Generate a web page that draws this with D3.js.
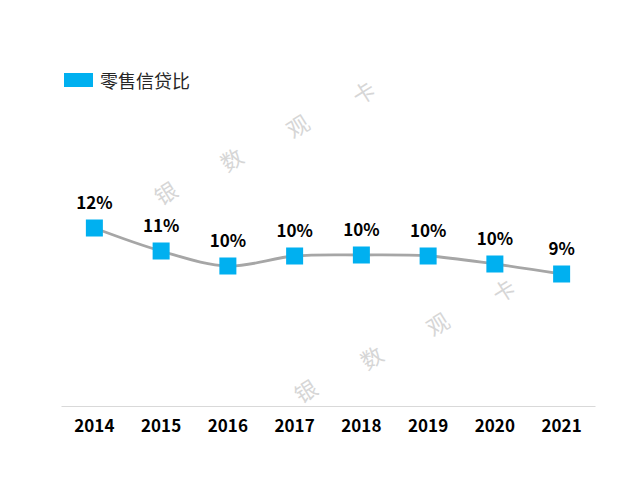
<!DOCTYPE html>
<html><head><meta charset="utf-8">
<script src="https://cdn.jsdelivr.net/npm/d3@7"></script>
<style>body{margin:0;background:#fff}svg{display:block}</style>
</head><body>
<svg id="c" width="640" height="480"></svg>
<script>
const years = ["2014","2015","2016","2017","2018","2019","2020","2021"];
const values = [11.7, 10.55, 9.8, 10.3, 10.35, 10.3, 9.9, 9.4];
const seriesName = "零售信贷比";
const watermark = ["银","数","观","卡"];

const svg = d3.select("#c");
const font = "'Noto Sans CJK SC','Noto Sans',sans-serif";
const x = d3.scaleBand().domain(years).range([61, 595]);
const y = d3.scaleLinear().domain([0, 15]).range([462, 162]);
const axisY = 406;

// watermark
const wm = [[165,192],[305,390]];
wm.forEach(([sx,sy]) => {
  watermark.forEach((ch,i) => {
    const px = sx + i*66, py = sy - i*33.5;
    svg.append("text").attr("x",px).attr("y",py)
      .attr("transform",`rotate(-32,${px},${py})`)
      .attr("text-anchor","middle").attr("dominant-baseline","central")
      .style("font-family",font).style("font-size","22px").style("fill","#d6d6d6")
      .text(ch);
  });
});

// x axis
const xAxis = d3.axisBottom(x).tickSize(0).tickPadding(14);
const gx = svg.append("g").attr("transform",`translate(0,${axisY})`).call(xAxis);
gx.select(".domain").attr("stroke","#d9d9d9").attr("stroke-width",1.2);
gx.selectAll("text").style("font-family",font).style("font-size","17px")
  .style("font-weight","bold").style("fill","#000");

const cx = d => x(d) + x.bandwidth()/2;
const line = d3.line().x((d,i)=>cx(years[i])).y(d=>y(d)).curve(d3.curveCatmullRom.alpha(0.5));
svg.append("path").datum(values).attr("d",line).attr("fill","none")
  .attr("stroke","#a6a6a6").attr("stroke-width",2.8);

svg.selectAll("rect.m").data(values).enter().append("rect").attr("class","m")
  .attr("x",(d,i)=>cx(years[i])-8.5).attr("y",d=>y(d)-8.5)
  .attr("width",17).attr("height",17).attr("fill","#00b0f0");

svg.selectAll("text.lbl").data(values).enter().append("text").attr("class","lbl")
  .attr("x",(d,i)=>cx(years[i])).attr("y",d=>y(d)-19)
  .attr("text-anchor","middle")
  .style("font-family",font).style("font-size","17px").style("font-weight","bold").style("fill","#000")
  .text(d=>Math.round(d)+"%");

// legend
svg.append("rect").attr("x",64).attr("y",73).attr("width",29).attr("height",14).attr("fill","#00b0f0");
svg.append("text").attr("x",100).attr("y",80).attr("dominant-baseline","central")
  .style("font-family",font).style("font-size","18px").style("fill","#262626").text(seriesName);
</script>
</body></html>
